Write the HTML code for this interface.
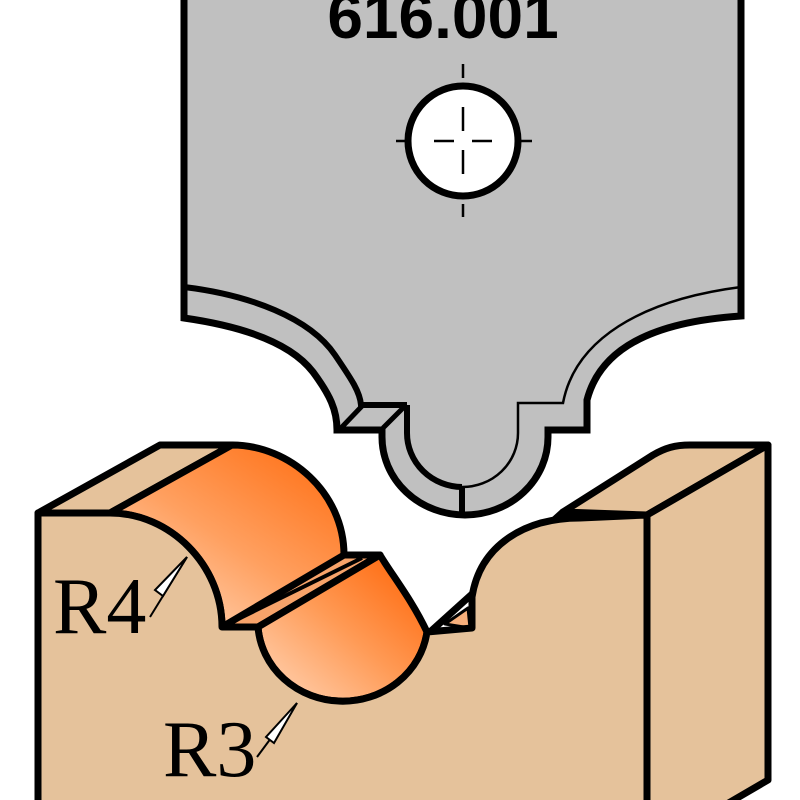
<!DOCTYPE html>
<html><head><meta charset="utf-8"><style>html,body{margin:0;padding:0;background:#fff}svg{display:block}</style></head>
<body>
<svg width="800" height="800" viewBox="0 0 800 800" xmlns="http://www.w3.org/2000/svg">
<defs>
<linearGradient id="og" x1="0" y1="1" x2="1" y2="0">
<stop offset="0" stop-color="#ffe2cc"/><stop offset="0.45" stop-color="#ffa060"/><stop offset="1" stop-color="#ff6200"/>
</linearGradient>
<linearGradient id="og2" x1="0" y1="1" x2="1" y2="0">
<stop offset="0" stop-color="#ffd8bc"/><stop offset="0.5" stop-color="#ff9a55"/><stop offset="1" stop-color="#ff6000"/>
</linearGradient>
</defs>
<g stroke="#000" stroke-linejoin="miter">
<!-- blade -->
<path d="M184,-10 L184,318 C240,326 290,342 313,372 C330,395 337,410 337,430 L382,430 L382,437 A83,78 0 0 0 548,437 L548,430 L587,430 L587,400 C600,350 650,322 741,316 L741,-10 Z" fill="#c0c0c0" stroke-width="7"/>
<path d="M184,287 C250,295 310,318 335,355 C352,380 360,392 361,405 L407,405" fill="none" stroke-width="6"/>
<path d="M407,405 L407,433 A55.5,54 0 0 0 462,487" fill="none" stroke-width="6"/>
<path d="M462,487 A55.5,54 0 0 0 518,433 L518,403 L563,403 C575,340 640,300 741,287" fill="none" stroke-width="2.5"/>
<line x1="341" y1="428" x2="363" y2="405" stroke-width="5"/>
<line x1="383" y1="428" x2="406" y2="405" stroke-width="5"/>
<line x1="462" y1="487" x2="462" y2="515" stroke-width="6"/>
<circle cx="463" cy="141" r="55" fill="#fff" stroke-width="7"/>
<g stroke-width="2.5">
<line x1="396" y1="141" x2="408" y2="141"/><line x1="518" y1="141" x2="532" y2="141"/>
<line x1="463" y1="64" x2="463" y2="78"/><line x1="463" y1="204" x2="463" y2="217"/>
<line x1="434" y1="141" x2="454" y2="141"/><line x1="472" y1="141" x2="492" y2="141"/>
<line x1="463" y1="107" x2="463" y2="131"/><line x1="463" y1="150" x2="463" y2="174"/>
</g>
</g>
<text x="443" y="38" font-family="Liberation Sans, sans-serif" font-weight="bold" font-size="64" text-anchor="middle" fill="#000">616.001</text>

<g stroke="#000" stroke-width="7" stroke-linejoin="round">
<path d="M563,512 L653,455 C665,448 675,445 690,445 L768,445 L647,515 Z" fill="#e5c29b"/>
<path d="M647,515 L768,445 L768,780 L720,808 L647,808 Z" fill="#e5c29b"/>
<line x1="430" y1="632" x2="563" y2="512"/>
<path d="M38,513 L160,445 L232,445 L110,513 Z" fill="#e5c29b"/>
<path d="M110,513 C170,513 222,565 222,627 L258,627 L380,555 L344,555 C344,493 290,445 232,445 Z" fill="url(#og)"/>
<path d="M222,627 L258,627 L380,555 L344,555 Z" fill="#f7a36a"/>
<line x1="226" y1="625" x2="362" y2="558" stroke-width="4"/>
<path d="M258,627 A85,80 0 0 0 427,632 C412,600 392,575 380,555 Z" fill="url(#og2)"/>
<path d="M445,624 L468,608 L470,628 Z" fill="#f8b07c" stroke-width="3"/>
<path d="M38,513 L110,513 C170,513 222,565 222,627 L258,627 A85,80 0 0 0 427,632 L472,628 L472,597 C480,545 525,518 580,518 L647,515 L647,808 L38,808 Z" fill="#e5c29b"/>
</g>
<g stroke="#000" stroke-width="2" fill="#fff">
<line x1="150" y1="617" x2="187" y2="557"/>
<path d="M187,557 L155,590 L163,596 Z"/>
<line x1="257" y1="757" x2="297" y2="703"/>
<path d="M297,703 L266,737 L274,743 Z"/>
</g>
<text x="53" y="633" font-family="Liberation Serif, serif" font-size="80" fill="#000">R4</text>
<text x="163" y="776" font-family="Liberation Serif, serif" font-size="80" fill="#000">R3</text>
</svg>
</body></html>
